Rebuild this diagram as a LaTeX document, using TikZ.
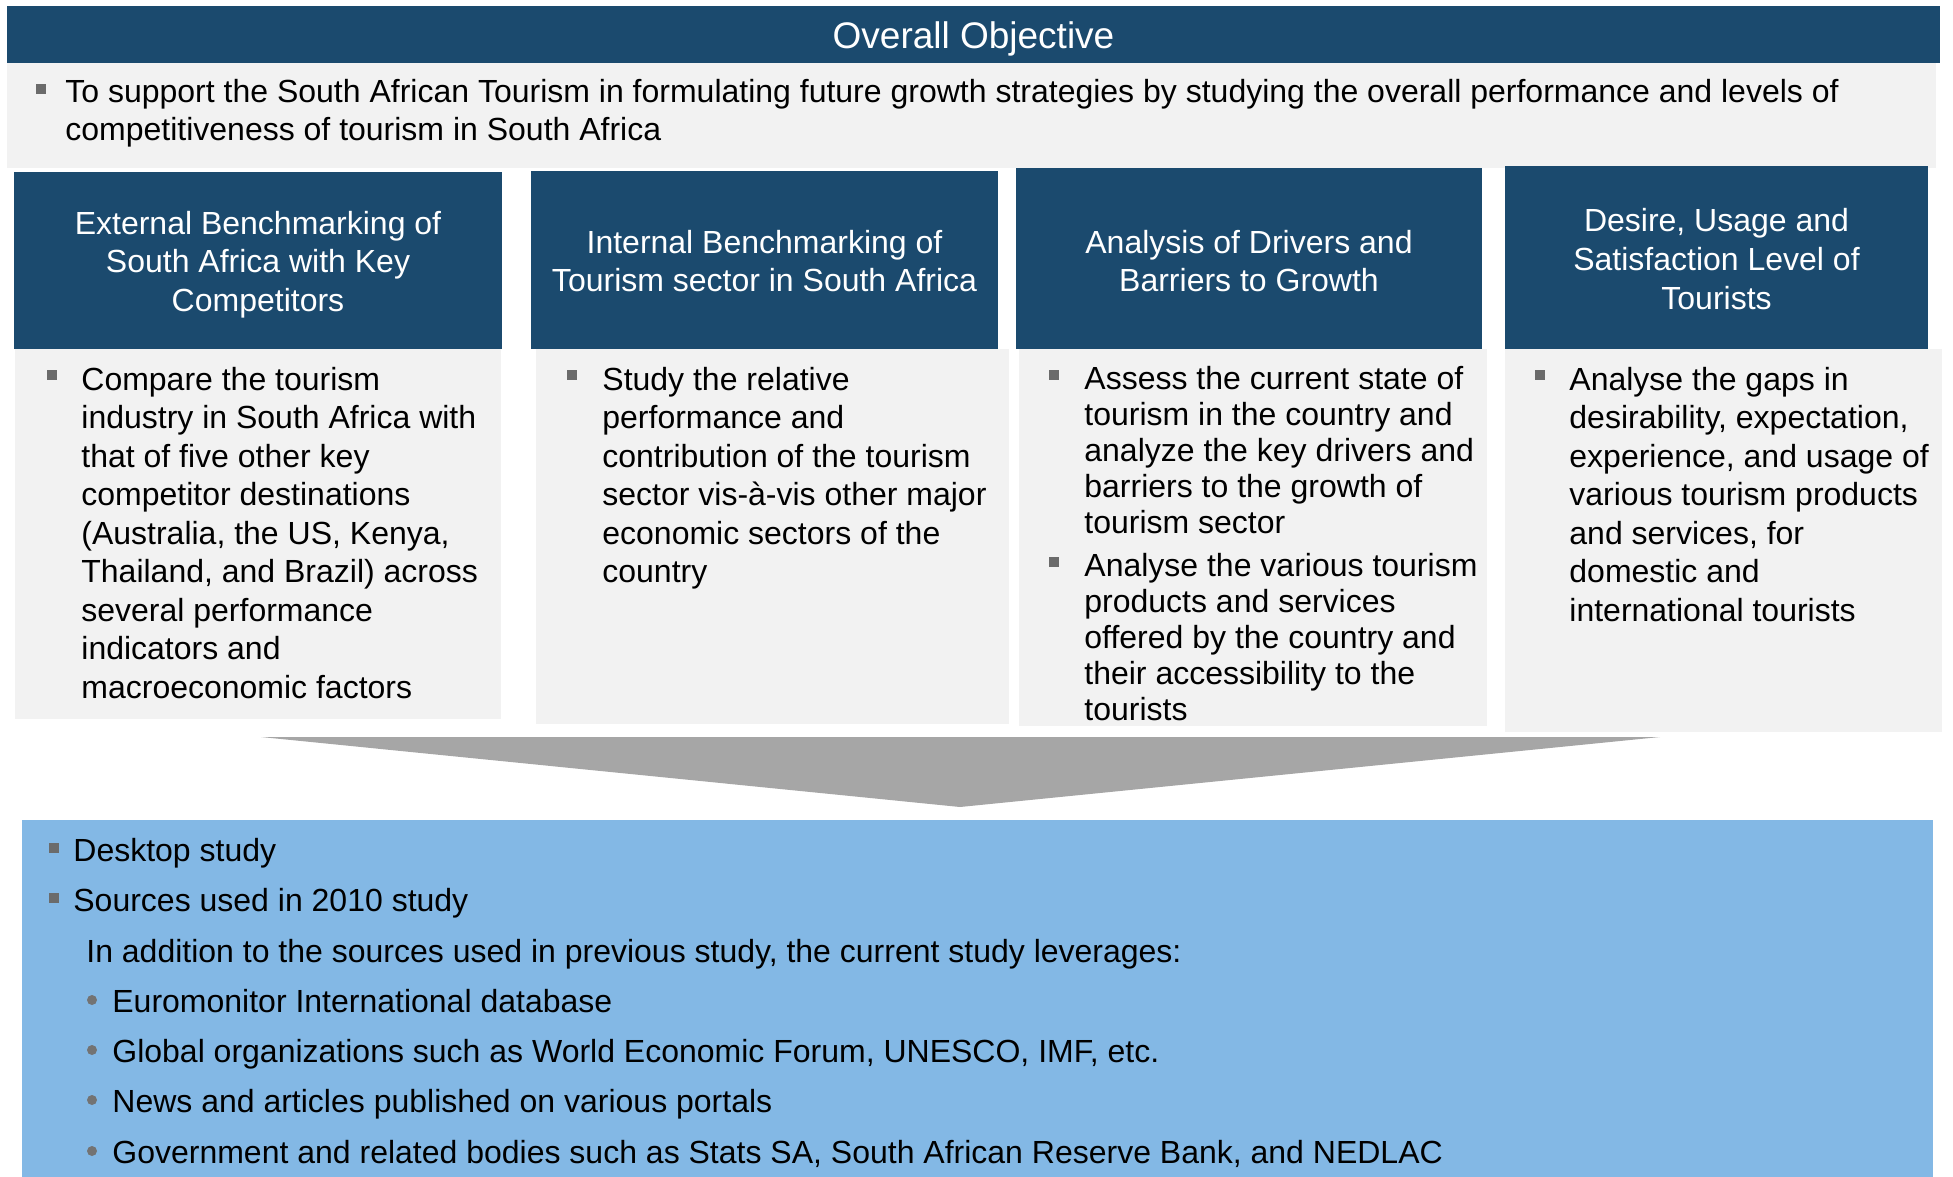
\documentclass[tikz,border=0pt]{standalone}
\usepackage{fontspec}
\setmainfont{Liberation Sans}
\definecolor{navy}{HTML}{1B4A6E}
\definecolor{panel}{HTML}{F2F2F2}
\definecolor{sky}{HTML}{83B8E5}
\definecolor{arrowgray}{HTML}{A6A6A6}
\definecolor{bulletgray}{HTML}{6B6B6B}
\definecolor{dotgray}{HTML}{737373}
\newcommand{\mylines}[1]{\begin{tabular}[t]{@{}l@{}}#1\end{tabular}}
\tikzset{
  hdrtext/.style={text=white, align=center, inner sep=0pt, font=\fontsize{16}{19.3}\selectfont},
  bodytext/.style={anchor=base west, inner sep=0pt, font=\fontsize{16}{19.25}\selectfont},
  tighttext/.style={bodytext, font=\fontsize{16}{18.1}\selectfont},
  sqbullet/.style={fill=bulletgray, rectangle, minimum size=5pt, inner sep=0pt},
  dotbullet/.style={fill=dotgray, circle, minimum size=5pt, inner sep=0pt},
}
\begin{document}
\begin{tikzpicture}[x=0.5pt,y=-0.5pt]
\useasboundingbox (0,0) rectangle (1953,1177);
% banner and objective
\fill[navy] (7,6) rectangle (1940,63);
\node[text=white, inner sep=0pt, font=\fontsize{18.5}{22}\selectfont] (banner) at (973.5,39) {Overall Objective};
\fill[panel] (7,63) rectangle (1936,168);
\node[sqbullet] (objb) at (41,89) {};
\node[bodytext, font=\fontsize{16}{18.85}\selectfont] (objt) at (65,103) {\mylines{To support the South African Tourism in formulating future growth strategies by studying the overall performance and levels of\\competitiveness of tourism in South Africa}};
% headers
\fill[navy] (14,172) rectangle (502,349);
\fill[navy] (531,171) rectangle (998,349);
\fill[navy] (1016,168) rectangle (1482,349);
\fill[navy] (1505,166) rectangle (1928,349);
\node[hdrtext] (h1) at (258,264.5) {External Benchmarking of\\South Africa with Key\\Competitors};
\node[hdrtext] (h2) at (764.5,261) {Internal Benchmarking of\\Tourism sector in South Africa};
\node[hdrtext] (h3) at (1249,261) {Analysis of Drivers and\\Barriers to Growth};
\node[hdrtext] (h4) at (1716.5,259) {Desire, Usage and\\Satisfaction Level of\\Tourists};
% bodies
\fill[panel] (15,349) rectangle (501,719);
\fill[panel] (536,349) rectangle (1009,724);
\fill[panel] (1019,349) rectangle (1487,726);
\fill[panel] (1505,349) rectangle (1942,732);
\node[sqbullet] (b1b) at (52,375) {};
\node[bodytext] (b1t) at (81,390) {\mylines{Compare the tourism\\industry in South Africa with\\that of five other key\\competitor destinations\\(Australia, the US, Kenya,\\Thailand, and Brazil) across\\several performance\\indicators and\\macroeconomic factors}};
\node[sqbullet] (b2b) at (572,375) {};
\node[bodytext] (b2t) at (602,390) {\mylines{Study the relative\\performance and\\contribution of the tourism\\sector vis-à-vis other major\\economic sectors of the\\country}};
\node[sqbullet] (b3b) at (1054,375) {};
\node[tighttext] (b3t) at (1084,389) {\mylines{Assess the current state of\\tourism in the country and\\analyze the key drivers and\\barriers to the growth of\\tourism sector}};
\node[sqbullet] (b3c) at (1054,562) {};
\node[tighttext] (b3u) at (1084,576) {\mylines{Analyse the various tourism\\products and services\\offered by the country and\\their accessibility to the\\tourists}};
\node[sqbullet] (b4b) at (1540,375) {};
\node[bodytext] (b4t) at (1569,390) {\mylines{Analyse the gaps in\\desirability, expectation,\\experience, and usage of\\various tourism products\\and services, for\\domestic and\\international tourists}};
% arrow
\fill[arrowgray] (261,737) -- (1660,737) -- (960,807) -- cycle;
% sources box
\fill[sky] (22,820) rectangle (1933,1177);
\node[sqbullet] (s1b) at (54,848) {};
\node[bodytext] (s1t) at (73,861) {Desktop study};
\node[sqbullet] (s2b) at (54,898) {};
\node[bodytext] (s2t) at (73,911) {Sources used in 2010 study};
\node[bodytext] (s3t) at (86,962) {In addition to the sources used in previous study, the current study leverages:};
\node[dotbullet] (d1b) at (92,1000) {};
\node[bodytext] (d1t) at (112,1012) {Euromonitor International database};
\node[dotbullet] (d2b) at (92,1050) {};
\node[bodytext] (d2t) at (112,1062) {Global organizations such as World Economic Forum, UNESCO, IMF, etc.};
\node[dotbullet] (d3b) at (92,1100) {};
\node[bodytext] (d3t) at (112,1112) {News and articles published on various portals};
\node[dotbullet] (d4b) at (92,1151) {};
\node[bodytext] (d4t) at (112,1163) {Government and related bodies such as Stats SA, South African Reserve Bank, and NEDLAC};
\end{tikzpicture}
\end{document}
